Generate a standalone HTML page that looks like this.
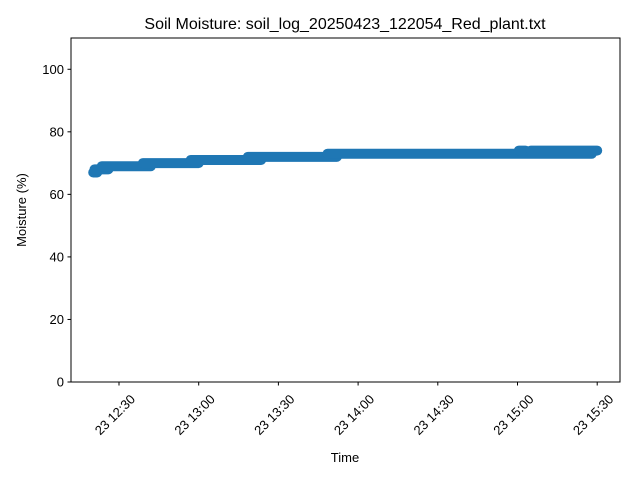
<!DOCTYPE html>
<html><head><meta charset="utf-8"><style>
body{margin:0;background:#fff}
svg{font-family:"Liberation Sans","DejaVu Sans",sans-serif}
</style></head><body>
<svg id="chart" width="640" height="480" viewBox="0 0 640 480" xmlns="http://www.w3.org/2000/svg">
<rect width="640" height="480" fill="#fff"/>
<text x="345" y="29" font-size="16" text-anchor="middle">Soil Moisture: soil_log_20250423_122054_Red_plant.txt</text>
<g id="marks"></g>
<g id="axes"></g>
<text x="345" y="462" font-size="13" text-anchor="middle">Time</text>
<text x="0" y="0" font-size="13" text-anchor="middle" transform="translate(26,210) rotate(-90)">Moisture (%)</text>
</svg>
<script>
// minutes after 12:00 on the 23rd
const segStart = [20.3, 20.8, 23.5, 39.0, 57.0, 78.5, 108.5, 180.5, 185.0];
const segEnd   = [21.8, 26.0, 42.0, 60.0, 83.5, 112.0, 208.0, 183.0, 210.0];
const segValue = [67, 68, 69, 70, 71, 72, 73, 74, 74];
const yTicks = [0, 20, 40, 60, 80, 100];
const xTicks = [30, 60, 90, 120, 150, 180, 210];
const xTickLabels = ["23 12:30","23 13:00","23 13:30","23 14:00","23 14:30","23 15:00","23 15:30"];

const L=71, R=620, T=38, B=382;
const X = m => 119 + (m - 30) * 79.7 / 30;
const Y = v => B - v * (B - T) / 110;
const NS="http://www.w3.org/2000/svg";
const marks=document.getElementById('marks'), axes=document.getElementById('axes');
function mk(tag, attrs, parent){const e=document.createElementNS(NS,tag);for(const k in attrs)e.setAttribute(k,attrs[k]);parent.appendChild(e);return e;}

for(let i=0;i<segValue.length;i++){
  const e=mk('line',{x1:X(segStart[i]),x2:X(segEnd[i]),y1:Y(segValue[i]),y2:Y(segValue[i]),stroke:'#1f77b4','stroke-width':10,'stroke-linecap':'round'},marks);
  
  
}
mk('rect',{x:L,y:T,width:R-L,height:B-T,fill:'none',stroke:'#000','stroke-width':1},axes);
yTicks.forEach(v=>{
  const y=Y(v);
  mk('line',{x1:L-3.5,x2:L,y1:y,y2:y,stroke:'#000'},axes);
  const t=mk('text',{x:L-7,y:y+4.5,'font-size':13,'text-anchor':'end'},axes);
  t.textContent=v;
  
  
});
xTicks.forEach((m,i)=>{
  const x=X(m);
  mk('line',{x1:x,x2:x,y1:B,y2:B+3.5,stroke:'#000'},axes);
  const t=mk('text',{x:0,y:0,'font-size':13,'text-anchor':'end',transform:`translate(${x+17},${B+18}) rotate(-45)`},axes);
  t.textContent=xTickLabels[i];
  
  
});
</script>
</body></html>
